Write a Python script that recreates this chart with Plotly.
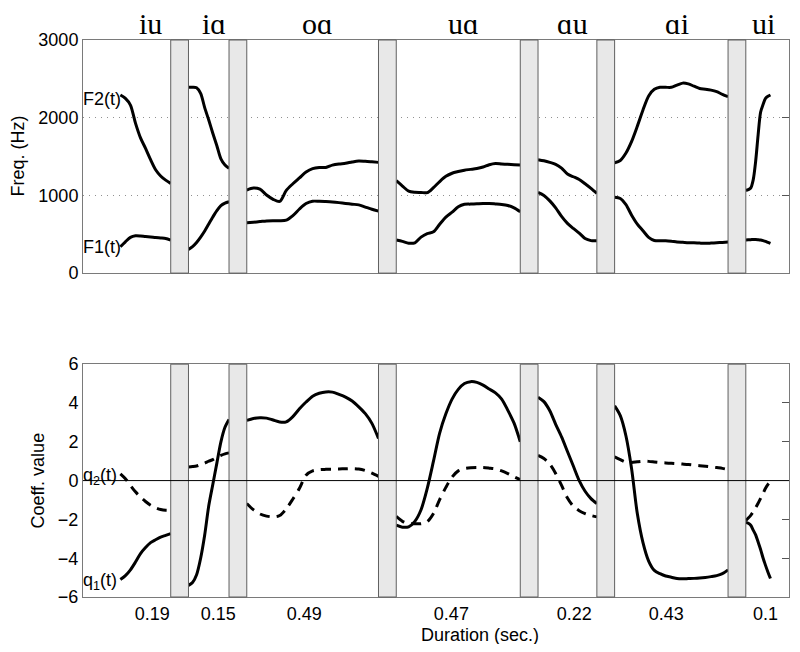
import numpy as np
import plotly.graph_objects as go

# ---------------- data ----------------
vowels = ["iu", "iɑ", "oɑ", "uɑ", "ɑu", "ɑi", "ui"]
duration_labels = ["0.19", "0.15", "0.49", "0.47", "0.22", "0.43", "0.1"]
seg_durations = [0.190, 0.153, 0.497, 0.468, 0.222, 0.428, 0.093]   # seconds (measured)
duration_tick_pos = [0.2615, 0.5106, 0.835, 1.390, 1.854, 2.201, 2.575]

# formant tracks (Hz), sampled uniformly across each segment
F2 = [
    [2292, 2249, 2163, 1930, 1740, 1605, 1460, 1330, 1250, 1197, 1155],
    [2391, 2391, 2385, 2313, 2130, 1970, 1800, 1640, 1470, 1390, 1348],
    [1069, 1095, 1080, 1005, 950, 922, 1065, 1150, 1225, 1300, 1345,
     1360, 1360, 1390, 1405, 1413, 1430, 1442, 1438, 1432, 1425],
    [1189, 1120, 1055, 1040, 1038, 1035, 1100, 1178, 1245, 1285, 1307,
     1325, 1335, 1346, 1365, 1395, 1411, 1405, 1400, 1395, 1391],
    [1460, 1445, 1425, 1400, 1350, 1275, 1240, 1205, 1150, 1090, 1026],
    [1421, 1450, 1545, 1695, 1890, 2100, 2280, 2365, 2391, 2391, 2391,
     2420, 2445, 2435, 2405, 2375, 2367, 2355, 2335, 2300, 2271],
    [1065, 1075, 1095, 1200, 1440, 1780, 2070, 2170, 2249, 2275, 2292],
]
F1 = [
    [339, 403, 460, 480, 478, 470, 465, 457, 452, 446, 425],
    [305, 340, 393, 462, 541, 632, 722, 805, 868, 900, 918],
    [648, 655, 663, 672, 674, 674, 682, 740, 825, 895, 925,
     924, 920, 915, 907, 897, 887, 878, 850, 822, 798],
    [425, 408, 385, 390, 463, 508, 531, 629, 720, 784, 853,
     885, 888, 892, 896, 895, 890, 884, 870, 840, 790],
    [1039, 1000, 930, 840, 730, 640, 575, 515, 445, 418, 416],
    [975, 960, 880, 745, 630, 545, 460, 420, 416, 416, 410,
     400, 396, 392, 390, 386, 383, 386, 390, 395, 399],
    [425, 428, 430, 433, 433, 430, 426, 418, 408, 395, 382],
]
# coefficient tracks
q1 = [
    [-5.1, -4.9, -4.6, -4.2, -3.76, -3.45, -3.2, -3.05, -2.91, -2.82, -2.73],
    [-5.4, -5.25, -4.85, -4.0, -2.8, -1.3, -0.2, 0.9, 2.0, 2.75, 3.15],
    [3.1, 3.2, 3.24, 3.22, 3.12, 3.02, 3.03, 3.3, 3.7, 4.05, 4.35,
     4.5, 4.57, 4.56, 4.44, 4.3, 4.1, 3.8, 3.45, 2.95, 2.17],
    [-2.3, -2.4, -2.38, -2.1, -1.5, -0.4, 1.0, 2.45, 3.44, 4.2, 4.7,
     5.0, 5.1, 5.06, 4.92, 4.72, 4.52, 4.2, 3.62, 2.96, 2.0],
    [4.3, 4.07, 3.6, 2.9, 2.25, 1.5, 0.75, 0.0, -0.55, -0.93, -1.19],
    [3.85, 3.35, 2.3, 0.6, -1.7, -3.2, -4.15, -4.63, -4.8, -4.92, -4.98,
     -5.05, -5.06, -5.05, -5.04, -5.02, -4.99, -4.95, -4.9, -4.8, -4.6],
    [-2.15, -2.2, -2.3, -2.55, -2.8, -3.17, -3.55, -3.99, -4.37, -4.72, -5.05],
]
q2 = [
    [0.35, 0.1, -0.25, -0.58, -0.85, -1.08, -1.27, -1.4, -1.49, -1.53, -1.53],
    [0.7, 0.72, 0.75, 0.82, 0.9, 1.0, 1.08, 1.2, 1.3, 1.38, 1.43],
    [-1.18, -1.5, -1.72, -1.83, -1.87, -1.8, -1.45, -0.95, -0.4, 0.28, 0.5,
     0.56, 0.58, 0.59, 0.6, 0.61, 0.62, 0.6, 0.52, 0.38, 0.22],
    [-1.85, -2.1, -2.22, -2.22, -2.22, -2.12, -1.7, -0.98, -0.35, 0.18, 0.5,
     0.62, 0.66, 0.67, 0.67, 0.64, 0.6, 0.5, 0.36, 0.2, 0.05],
    [1.3, 1.14, 0.85, 0.37, -0.25, -0.9, -1.32, -1.55, -1.7, -1.8, -1.87],
    [1.22, 1.08, 0.95, 0.93, 0.97, 1.0, 0.99, 0.96, 0.93, 0.91, 0.89,
     0.87, 0.85, 0.83, 0.8, 0.77, 0.74, 0.71, 0.67, 0.63, 0.57],
    [-2.05, -1.93, -1.79, -1.6, -1.4, -1.17, -0.92, -0.66, -0.4, -0.2, -0.05],
]

# ---------------- layout constants ----------------
LEAD = 0.141     # empty time before first segment
GAP = 0.067      # width of the grey separators
XMAX = 2.664
FONT = "Liberation Sans, Arial, Helvetica, sans-serif"
SERIF = "Liberation Serif, Times New Roman, serif"

starts = []
t = LEAD
for d in seg_durations:
    starts.append(t)
    t += d + GAP

fig = go.Figure()

def add_curve(vals, i, xa, ya, dash="solid"):
    n = len(vals)
    x = starts[i] + np.linspace(0, seg_durations[i], n)
    fig.add_trace(go.Scatter(
        x=x, y=vals, mode="lines", xaxis=xa, yaxis=ya,
        line=dict(color="black", width=3, dash=dash, shape="spline", smoothing=0.8),
        showlegend=False, hoverinfo="skip"))

for i in range(len(seg_durations)):
    add_curve(F2[i], i, "x", "y")
    add_curve(F1[i], i, "x", "y")
    add_curve(q1[i], i, "x2", "y2")
    add_curve(q2[i], i, "x2", "y2", dash="10px,7px")

# dummy traces so the right-hand tick axes render
fig.add_trace(go.Scatter(x=[None], y=[None], xaxis="x", yaxis="y3", showlegend=False, hoverinfo="skip"))
fig.add_trace(go.Scatter(x=[None], y=[None], xaxis="x2", yaxis="y4", showlegend=False, hoverinfo="skip"))

# grey separators
shapes = []
for i in range(len(seg_durations) - 1):
    x0 = starts[i] + seg_durations[i]
    x1 = starts[i + 1]
    for xr, yr in (("x", "y domain"), ("x2", "y2 domain")):
        shapes.append(dict(type="rect", xref=xr, yref=yr, x0=x0, x1=x1, y0=0, y1=1,
                           fillcolor="#e8e8e8", line=dict(color="#606060", width=1),
                           layer="above"))
# zero line in coefficient panel
shapes.append(dict(type="line", xref="x2 domain", yref="y2", x0=0, x1=1, y0=0, y1=0,
                   line=dict(color="black", width=1), layer="above"))

annotations = []
for i, v in enumerate(vowels):
    annotations.append(dict(text=v, x=starts[i] + seg_durations[i] / 2 + 0.02, y=1,
                             xref="x", yref="y domain", xanchor="center", yanchor="bottom",
                             yshift=-1, borderpad=0, showarrow=False,
                             font=dict(family=SERIF, size=30, color="black")))
# curve labels
lab_font = dict(family=FONT, size=18, color="black")
annotations += [
    dict(text="F2(t)", x=0, y=2240, xref="x domain", yref="y", xanchor="left",
         yanchor="middle", showarrow=False, font=lab_font, xshift=-2),
    dict(text="F1(t)", x=0, y=339, xref="x domain", yref="y", xanchor="left",
         yanchor="middle", showarrow=False, font=lab_font, xshift=-2),
    dict(text="q<sub>2</sub>(t)", x=0, y=0.2, xref="x2 domain", yref="y2", xanchor="left",
         yanchor="middle", showarrow=False, font=lab_font, xshift=-2),
    dict(text="q<sub>1</sub>(t)", x=0, y=-5.2, xref="x2 domain", yref="y2", xanchor="left",
         yanchor="middle", showarrow=False, font=lab_font, xshift=-2),
    # axis titles
    dict(text="Freq. (Hz)", x=0, y=0.5, xref="x domain", yref="y domain", xanchor="center",
         yanchor="middle", textangle=-90, xshift=-65, showarrow=False, font=lab_font),
    dict(text="Coeff. value", x=0, y=0.5, xref="x2 domain", yref="y2 domain", xanchor="center",
         yanchor="middle", textangle=-90, xshift=-45, showarrow=False, font=lab_font),
    dict(text="Duration (sec.)", x=(480 - 82.7) / 706.0, y=0, xref="x2 domain", yref="y2 domain",
         xanchor="center", yanchor="middle", yshift=-38, showarrow=False, font=lab_font),
]

FRAME = "#7a7a7a"
# the page adds an 8px body margin, so the figure is 16px smaller than the window
W, H = 784, 636
ML, MR, MT, MB = 74.7, 3.3, 32, 47.3
TOP_DOM = [0.5815, 1.0]
BOT_DOM = [0.0, 0.418]

fig.update_layout(
    width=W, height=H,
    margin=dict(l=ML, r=MR, t=MT, b=MB, pad=0),
    paper_bgcolor="white", plot_bgcolor="white",
    font=dict(family=FONT, size=18, color="black"),
    showlegend=False,
    shapes=shapes, annotations=annotations,
    xaxis=dict(domain=[0, 1], anchor="y", range=[0, XMAX], showticklabels=False, ticks="",
               showgrid=False, zeroline=False, showline=True, mirror=True,
               linecolor=FRAME, linewidth=1),
    yaxis=dict(domain=TOP_DOM, anchor="x", range=[0, 3000], tickvals=[0, 1000, 2000, 3000],
               ticks="", showgrid=True, gridcolor="#909090", griddash="1px,5px", gridwidth=1,
               zeroline=False, showline=True, mirror=True, linecolor=FRAME, linewidth=1,
               tickfont=dict(size=18)),
    yaxis3=dict(overlaying="y", side="right", anchor="x", range=[0, 3000],
                tickvals=[1000, 2000], ticks="inside", ticklen=7, tickcolor="#555555",
                showticklabels=False, showgrid=False, zeroline=False, showline=False),
    xaxis2=dict(domain=[0, 1], anchor="y2", range=[0, XMAX], tickvals=duration_tick_pos,
                ticktext=duration_labels, ticks="", showgrid=False, zeroline=False,
                showline=True, mirror=True, linecolor=FRAME, linewidth=1,
                tickfont=dict(size=18)),
    yaxis2=dict(domain=BOT_DOM, anchor="x2", range=[-6, 6], tickvals=[-6, -4, -2, 0, 2, 4, 6],
                ticks="", showgrid=False, zeroline=False, showline=True, mirror=True,
                linecolor=FRAME, linewidth=1, tickfont=dict(size=18)),
    yaxis4=dict(overlaying="y2", side="right", anchor="x2", range=[-6, 6],
                tickvals=[-4, -2, 2, 4], ticks="inside", ticklen=7, tickcolor="#555555",
                showticklabels=False, showgrid=False, zeroline=False, showline=False),
)

fig.write_html("out.html")
